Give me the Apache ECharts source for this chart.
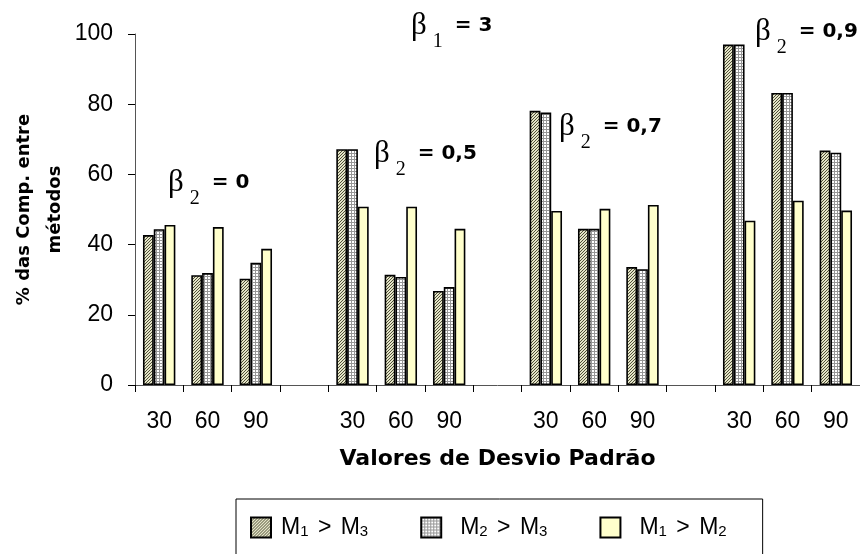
<!DOCTYPE html>
<html><head><meta charset="utf-8">
<script src="https://cdn.jsdelivr.net/npm/echarts@6/dist/echarts.min.js"></script>
<style>html,body{margin:0;padding:0;background:#fff}#c{width:860px;height:554px}</style>
</head><body><div id="c"></div>
<script>
// ---- data ----
const categories = ['30','60','90','','30','60','90','','30','60','90','','30','60','90'];
const seriesNames = ['M1 > M3', 'M2 > M3', 'M1 > M2'];
const m1GtM3 = [42.7, 31.3, 30.3, '-', 67.2, 31.4, 26.8, '-', 78.1, 44.5, 33.6, '-', 97.0, 83.2, 66.8];
const m2GtM3 = [44.4, 31.9, 34.8, '-', 67.2, 30.8, 27.9, '-', 77.6, 44.5, 33.0, '-', 97.0, 83.2, 66.2];
const m1GtM2 = [45.6, 45.0, 38.8, '-', 50.8, 50.8, 44.5, '-', 49.6, 50.2, 51.3, '-', 46.8, 52.5, 49.7];
const yTickValues = [0, 20, 40, 60, 80, 100];
const betaSubs = ['1', '2', '2', '2', '2'];
const betaValues = ['3', '0', '0,5', '0,7', '0,9'];

// ---- patterns ----
function makePattern(w, h, fn) {
  const c = document.createElement('canvas'); c.width = w; c.height = h;
  const ctx = c.getContext('2d'); const img = ctx.createImageData(w, h);
  for (let y = 0; y < h; y++) for (let x = 0; x < w; x++) {
    const col = fn(x, y); const i = (y * w + x) * 4;
    img.data[i] = col[0]; img.data[i+1] = col[1]; img.data[i+2] = col[2]; img.data[i+3] = 255;
  }
  ctx.putImageData(img, 0, 0); return c;
}
const hatch = makePattern(3, 3, (x, y) => (x + y) % 3 === 0 ? [80, 80, 55] : [228, 228, 200]);
const grid = makePattern(3, 3, (x, y) => (x % 3 === 0 || y % 3 === 0) ? [150, 150, 150] : [255, 255, 255]);
const fills = [{image: hatch, repeat: 'repeat'}, {image: grid, repeat: 'repeat'}, '#FFFFCC'];
const valuesList = [m1GtM3, m2GtM3, m1GtM2];

const sans = "'Liberation Sans', Arial, sans-serif";
const wide = "'DejaVu Sans', sans-serif";
const serif = "'Liberation Serif', 'Times New Roman', serif";

const chart = echarts.init(document.getElementById('c'));

const annotPos = [[411, 26], [168, 183], [374, 154], [559, 127], [755, 32]];
const graphics = betaSubs.map((s, i) => ({
  type: 'text', x: annotPos[i][0], y: annotPos[i][1],
  style: {
    text: '{b|β}{s|' + s + '}{e| = ' + betaValues[i] + '}',
    verticalAlign: 'middle', align: 'left',
    rich: {
      b: {fontFamily: serif, fontSize: 31, lineHeight: 52, fill: '#000', color: '#000'},
      s: {fontFamily: serif, fontSize: 20, lineHeight: 20, verticalAlign: 'bottom', padding: [0, 5, 0, 6], fill: '#000', color: '#000'},
      e: {fontFamily: wide, fontSize: 20, fontWeight: 'bold', lineHeight: 52, fill: '#000', color: '#000'}
    }
  }
}));

chart.setOption({
  animation: false,
  backgroundColor: '#fff',
  grid: {left: 135, right: 0, top: 34, bottom: 169, containLabel: false, outerBoundsMode: 'none'},
  xAxis: {
    type: 'category', data: categories,
    axisLine: {lineStyle: {color: '#555', width: 1}},
    axisTick: {show: true, length: 7, lineStyle: {color: '#000'}, alignWithLabel: false, interval: 0},
    axisLabel: {fontFamily: sans, fontSize: 23, color: '#000', margin: 25, interval: 0},
    name: 'Valores de Desvio Padrão', nameLocation: 'middle', nameGap: 63, nameMoveOverlap: false,
    nameTextStyle: {fontFamily: wide, fontWeight: 'bold', fontSize: 22, color: '#000'}
  },
  yAxis: {
    type: 'value', min: yTickValues[0], max: yTickValues[yTickValues.length - 1], interval: yTickValues[1] - yTickValues[0],
    axisLine: {show: true, lineStyle: {color: '#555', width: 1}},
    axisTick: {show: true, length: 7, lineStyle: {color: '#000'}},
    splitLine: {show: false},
    axisLabel: {fontFamily: sans, fontSize: 23, color: '#000', margin: 22},
    name: '% das Comp. entre\nmétodos', nameLocation: 'middle', nameGap: 64, nameRotate: 90, nameMoveOverlap: false,
    nameTextStyle: {fontFamily: wide, fontWeight: 'bold', fontSize: 18, color: '#000', lineHeight: 31}
  },
  legend: {
    left: 236, top: 499,
    data: seriesNames,
    orient: 'horizontal',
    itemWidth: 20, itemHeight: 20, itemGap: 52,
    borderColor: '#000', borderWidth: 1, borderRadius: 0,
    padding: [17, 36, 40, 14],
    icon: 'rect',
    formatter: (name) => {
      const d = name.match(/\d/g);
      const first = name === seriesNames[0] ? 'm' : 'mp';
      return '{' + first + '|M}{s|' + d[0] + '}{g| > }{m|M}{s|' + d[1] + '}';
    },
    textStyle: {
      fontFamily: sans, fontSize: 23, color: '#000', padding: [0, 0, 0, 5],
      rich: {
        m: {fontFamily: sans, fontSize: 23, lineHeight: 23, color: '#000'},
        mp: {fontFamily: sans, fontSize: 23, lineHeight: 23, color: '#000', padding: [0, 0, 0, 9]},
        s: {fontFamily: sans, fontSize: 15, lineHeight: 17, verticalAlign: 'bottom', color: '#000'},
        g: {fontFamily: sans, fontSize: 23, lineHeight: 23, padding: [0, 3, 0, 3], color: '#000'}
      }
    }
  },
  series: valuesList.map((vals, i) => ({
    name: seriesNames[i], type: 'bar', data: vals,
    barGap: '0%', barCategoryGap: '33%',
    itemStyle: {color: fills[i], borderColor: '#000', borderWidth: 1.6},
    emphasis: {disabled: true}
  })),
  graphic: graphics
});
</script></body></html>
